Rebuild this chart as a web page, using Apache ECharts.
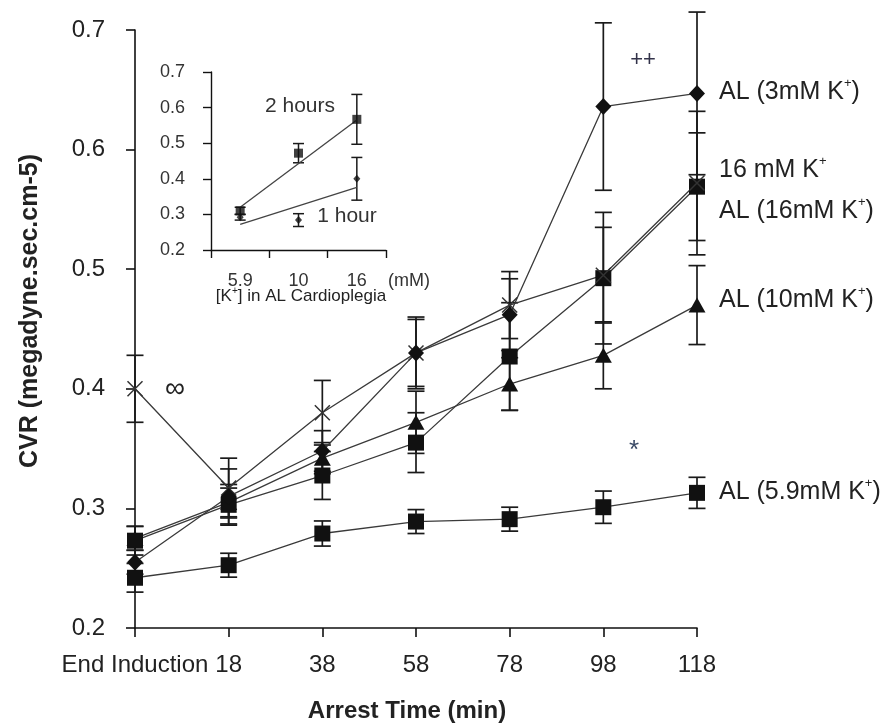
<!DOCTYPE html>
<html><head><meta charset="utf-8">
<script src="https://cdn.jsdelivr.net/npm/echarts@6/dist/echarts.min.js"></script>
<style>html,body{margin:0;padding:0;background:#fff}#c{width:888px;height:725px}</style>
</head><body><div id="c"></div>
<script>
// ---- main chart data ----
const cats = ['End Induction','18','38','58','78','98','118'];
const yTicks = [0.2,0.3,0.4,0.5,0.6,0.7];
const al3    = [0.255,0.310,0.348,0.430,0.462,0.636,0.647];
const al3Err = [0.010,0.023,0.017,0.028,0.030,0.070,0.068];
const k16    = [0.400,0.317,0.380,0.430,0.470,0.495,0.572];
const k16Err = [0.028,0.025,0.027,0.030,0.028,0.040,0.060];
const al16   = [0.273,0.303,0.3275,0.355,0.427,0.4925,0.569];
const al16Err= [0.012,0.017,0.020,0.025,0.045,0.055,0.045];
const al10   = [0.275,0.305,0.342,0.372,0.404,0.428,0.470];
const al10Err= [0.010,0.012,0.013,0.026,0.022,0.028,0.033];
const al59   = [0.242,0.2525,0.279,0.289,0.291,0.301,0.313];
const al59Err= [0.012,0.010,0.0105,0.010,0.010,0.0135,0.013];
// ---- inset data ----
const kCats = ['5.9','10','16'];
const h2    = [0.310,0.472,0.567];
const h2Err = [0.010,0.027,0.070];
const h1    = [0.292,0.284,0.400];
const h1Err = [0.008,0.018,0.060];
const h2Fit = [0.320,null,0.565];
const h1Fit = [0.272,null,0.376];

const FONT = '"Liberation Sans", Arial, sans-serif';
const TXT = '#222';
const chart = echarts.init(document.getElementById('c'));

function errRender(capW, lw){
  return function(params, api){
    const x = api.value(0), v = api.value(1), e = api.value(2);
    const hi = api.coord([x, v + e]);
    const lo = api.coord([x, v - e]);
    const st = {stroke:'#1a1a1a', lineWidth:lw};
    return {type:'group', children:[
      {type:'line', shape:{x1:hi[0],y1:hi[1],x2:lo[0],y2:lo[1]}, style:st},
      {type:'line', shape:{x1:hi[0]-capW/2,y1:hi[1],x2:hi[0]+capW/2,y2:hi[1]}, style:st},
      {type:'line', shape:{x1:lo[0]-capW/2,y1:lo[1],x2:lo[0]+capW/2,y2:lo[1]}, style:st}
    ]};
  };
}
function errSeries(vals, errs, gi, capW, lw){
  return {type:'custom', xAxisIndex:gi, yAxisIndex:gi, z:1, silent:true,
    renderItem: errRender(capW, lw),
    data: vals.map((v,i)=> v==null ? null : [i, v, errs[i]])};
}
function lineSeries(vals, sym, size){
  return {type:'line', data: vals, xAxisIndex:0, yAxisIndex:0, z:3,
    symbol: sym, symbolSize: size, showSymbol:true,
    lineStyle:{color:'#3a3a3a', width:1.3},
    itemStyle:{color:'#111', borderColor:'#111', borderWidth:0},
    animation:false};
}
const crossSym = 'path://M0,0L10,10M10,0L0,10';

function supText(base, tail){
  return '{n|' + base + '}{s|+}{n|' + tail + '}';
}
const richBig = {n:{fontSize:25, fontFamily:FONT, fill:TXT, color:TXT, lineHeight:30},
                 s:{fontSize:13, fontFamily:FONT, fill:TXT, color:TXT, lineHeight:14, verticalAlign:'top'}};
const richSmall = {n:{fontSize:17, fontFamily:FONT, color:TXT, lineHeight:20},
                 s:{fontSize:10, fontFamily:FONT, color:TXT, lineHeight:10, verticalAlign:'top'}};

function gText(x, y, text, size, opts){
  opts = opts || {};
  return {type:'text', x:x, y:y, rotation: opts.rotation || 0, silent:true, z:10,
    style:{text:text, fontSize:size, fontFamily:FONT, fontWeight: opts.bold ? 'bold' : 'normal',
      fill: opts.color || TXT, align: opts.align || 'left', verticalAlign:'middle',
      rich: opts.rich}};
}

const option = {
  animation:false,
  backgroundColor:'#fff',
  grid:[
    {left:135, right:191, top:30, bottom:97},
    {left:211, top:72, width:175, height:178}
  ],
  xAxis:[
    {type:'category', gridIndex:0, data:cats, boundaryGap:false,
      axisLine:{lineStyle:{color:'#111', width:1.6}},
      axisTick:{show:true, length:9, lineStyle:{color:'#111', width:1.6}},
      axisLabel:{fontSize:24, fontFamily:FONT, color:TXT, margin:25, interval:0}},
    {type:'category', gridIndex:1, data:kCats, boundaryGap:true,
      axisLine:{lineStyle:{color:'#111', width:1.4}},
      axisTick:{show:true, length:8, lineStyle:{color:'#111', width:1.4}},
      axisLabel:{fontSize:18, fontFamily:FONT, color:'#333', margin:22, interval:0}}
  ],
  yAxis:[
    {type:'value', gridIndex:0, min:0.2, max:0.7, interval:0.1,
      axisLine:{show:true, lineStyle:{color:'#111', width:1.6}},
      axisTick:{show:true, length:9, lineStyle:{color:'#111', width:1.6}},
      splitLine:{show:false},
      axisLabel:{fontSize:24, fontFamily:FONT, color:TXT, margin:30,
        formatter: v => yTicks.indexOf(Math.round(v*10)/10) >= 0 ? v.toFixed(1) : ''}},
    {type:'value', gridIndex:1, min:0.2, max:0.7, interval:0.1,
      axisLine:{show:true, lineStyle:{color:'#111', width:1.4}},
      axisTick:{show:true, length:8, lineStyle:{color:'#111', width:1.4}},
      splitLine:{show:false},
      axisLabel:{fontSize:18, fontFamily:FONT, color:'#333', margin:26,
        formatter: v => v.toFixed(1)}}
  ],
  series:[
    errSeries(al59, al59Err, 0, 17, 1.7),
    errSeries(al10, al10Err, 0, 17, 1.7),
    errSeries(al16, al16Err, 0, 17, 1.7),
    errSeries(k16, k16Err, 0, 17, 1.7),
    errSeries(al3, al3Err, 0, 17, 1.7),
    lineSeries(al59, 'rect', 16),
    lineSeries(al10, 'triangle', [17,15]),
    lineSeries(al16, 'rect', 16),
    Object.assign(lineSeries(k16, crossSym, 15), {itemStyle:{color:'rgba(0,0,0,0)', borderColor:'#333', borderWidth:1.5}}),
    lineSeries(al3, 'diamond', [16,17]),
    // inset
    errSeries(h2, h2Err, 1, 11, 1.5),
    errSeries(h1, h1Err, 1, 11, 1.5),
    {type:'line', xAxisIndex:1, yAxisIndex:1, data:h2Fit, connectNulls:true, showSymbol:false, symbol:'none',
      lineStyle:{color:'#444', width:1.3}, z:2},
    {type:'line', xAxisIndex:1, yAxisIndex:1, data:h1Fit, connectNulls:true, showSymbol:false, symbol:'none',
      lineStyle:{color:'#444', width:1.3}, z:2},
    {type:'scatter', xAxisIndex:1, yAxisIndex:1, data:h2, symbol:'rect', symbolSize:9, itemStyle:{color:'#111'}, z:3},
    {type:'scatter', xAxisIndex:1, yAxisIndex:1, data:h1, symbol:'diamond', symbolSize:[7,8], itemStyle:{color:'#111'}, z:3}
  ],
  graphic:[
    gText(30, 311, 'CVR (megadyne.sec.cm-5)', 25, {bold:true, align:'center', rotation:Math.PI/2}),
    gText(407, 711, 'Arrest Time (min)', 24, {bold:true, align:'center'}),
    gText(719, 92,  supText('AL (3mM K', ')'), 25, {rich:richBig}),
    gText(719, 170, supText('16 mM K', ''), 25, {rich:richBig}),
    gText(719, 211, supText('AL (16mM K', ')'), 25, {rich:richBig}),
    gText(719, 300, supText('AL (10mM K', ')'), 25, {rich:richBig}),
    gText(719, 492, supText('AL (5.9mM K', ')'), 25, {rich:richBig}),
    gText(165, 389, '\u221E', 28, {}),
    gText(643, 60, '++', 22, {align:'center', color:'#33334a'}),
    gText(634, 451, '*', 26, {align:'center', color:'#3a4a66'}),
    gText(300, 106, '2 hours', 21, {align:'center', color:'#333'}),
    gText(347, 216, '1 hour', 21, {align:'center', color:'#333'}),
    gText(388, 281, '(mM)', 18, {color:'#333'}),
    gText(301, 296, '{n|[K}{s|+}{n|] in AL Cardioplegia}', 17, {align:'center', rich:richSmall})
  ]
};
chart.setOption(option);
</script></body></html>
